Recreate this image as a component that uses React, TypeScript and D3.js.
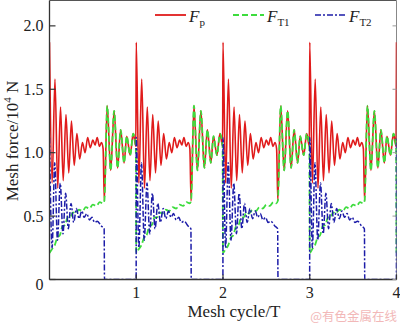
import React from "react";
import * as d3 from "d3";

// ---- data (one mesh cycle; cycles repeat identically) ----
const cycles = [0, 1, 2, 3, 4];
const xTicks = [1, 2, 3, 4];
const xTickLabels = ["1", "2", "3", "4"];
const yTicks = [0, 0.5, 1.0, 1.5, 2.0];
const yTickLabels = ["0", "0.5", "1.0", "1.5", "2.0"];

// F_p : [t within cycle, force /10^4 N]
const fpCycle: [number, number][] = [
  [0.0, 1.87], [0.03, 0.76], [0.063, 1.58], [0.095, 0.72], [0.127, 1.36],
  [0.158, 0.78], [0.19, 1.3], [0.222, 0.84], [0.253, 1.25], [0.285, 0.9],
  [0.316, 1.15], [0.348, 0.95], [0.38, 1.08], [0.41, 1.0], [0.44, 1.12],
  [0.47, 1.04], [0.5, 1.1], [0.525, 1.06], [0.55, 1.12], [0.575, 1.05],
  [0.6, 1.08], [0.618, 1.03], [0.632, 0.62], [0.665, 1.37], [0.705, 0.86],
  [0.745, 1.33], [0.785, 0.88], [0.82, 1.18], [0.86, 0.92], [0.89, 1.13],
  [0.93, 0.98], [0.965, 1.15], [0.995, 1.05],
];
// F_T1
const ft1Cycle: [number, number][] = [
  [0.0, 0.21], [0.03, 0.24], [0.06, 0.27], [0.09, 0.33], [0.12, 0.35],
  [0.15, 0.42], [0.18, 0.43], [0.21, 0.49], [0.24, 0.49], [0.27, 0.53],
  [0.3, 0.52], [0.34, 0.55], [0.38, 0.54], [0.42, 0.57], [0.46, 0.56],
  [0.5, 0.59], [0.54, 0.58], [0.58, 0.61], [0.615, 0.6], [0.632, 0.62],
  [0.665, 1.37], [0.705, 0.86], [0.745, 1.33], [0.785, 0.88], [0.82, 1.18],
  [0.86, 0.92], [0.89, 1.13], [0.93, 0.98], [0.965, 1.15], [0.995, 1.05],
];
// F_T2
const ft2Cycle: [number, number][] = [
  [0.0, 1.12], [0.03, 0.25], [0.06, 0.92], [0.092, 0.31], [0.124, 0.76],
  [0.155, 0.36], [0.186, 0.68], [0.217, 0.4], [0.248, 0.6], [0.279, 0.45],
  [0.31, 0.56], [0.341, 0.48], [0.372, 0.54], [0.4, 0.49], [0.43, 0.52],
  [0.46, 0.47], [0.49, 0.49], [0.52, 0.45], [0.55, 0.46], [0.6, 0.42],
  [0.63, 0.4], [0.634, 0.0], [0.999, 0.0],
];

const seriesNames = ["F", "F", "F"];
const seriesSubs = ["p", "T1", "T2"];

// ---- styles ----
const W = 400, H = 326;
const M = { left: 49.5, right: 396.5, top: 0.5, bottom: 279.5 };
const COLORS = ["#e01b1b", "#3ddc3d", "#1c1ca8"];
const DASH = ["none", "6,3", "6,2,2,2"];
const WIDTH = [1.6, 1.8, 1.5];
const FONT = "'Liberation Serif', 'Times New Roman', serif";

function expand(c: [number, number][]) {
  return cycles
    .flatMap((k) => c.map(([t, v]) => [k + t, v] as [number, number]))
    .filter((d) => d[0] <= 4.0001);
}

export default function App() {
  const x = d3.scaleLinear().domain([0, 4]).range([M.left, M.right]);
  const y = d3.scaleLinear().domain([0, 2.2]).range([M.bottom, M.top]);
  const line = d3
    .line<[number, number]>()
    .x((d) => x(d[0]))
    .y((d) => y(d[1]))
    .curve(d3.curveMonotoneX);

  const series = [expand(fpCycle), expand(ft1Cycle), expand(ft2Cycle)];
  const legendX = [155, 233, 315];

  return (
    <svg
      width={W}
      height={H}
      style={{ position: "absolute", left: 0, top: 0, background: "#fff" }}
      fontFamily={FONT}
    >
      <defs>
        <clipPath id="plot">
          <rect x={M.left} y={M.top} width={M.right - M.left} height={M.bottom - M.top} />
        </clipPath>
      </defs>
      {/* frame */}
      <line x1={M.left} x2={M.right} y1={M.top} y2={M.top} stroke="#555" strokeWidth={1} />
      <line x1={M.right} x2={M.right} y1={M.top} y2={M.bottom} stroke="#888" strokeWidth={1} />

      {/* series */}
      <g clipPath="url(#plot)">
        {series.map((s, i) => (
          <path
            key={i}
            d={line(s) || ""}
            fill="none"
            stroke={COLORS[i]}
            strokeWidth={WIDTH[i]}
            strokeDasharray={DASH[i]}
            strokeLinejoin="round"
          />
        ))}
      </g>

      {/* axes */}
      <line x1={M.left} x2={M.left} y1={M.top} y2={M.bottom} stroke="#333" strokeWidth={1.3} />
      <line x1={M.left} x2={M.right} y1={M.bottom} y2={M.bottom} stroke="#333" strokeWidth={1.3} />
      {yTicks.map((t, i) => (
        <g key={"y" + i}>
          <line x1={M.left} x2={M.left + 6} y1={y(t)} y2={y(t)} stroke="#333" strokeWidth={1.2} />
          <line x1={M.right} x2={M.right - 4} y1={y(t)} y2={y(t)} stroke="#999" strokeWidth={1} />
          <text
            x={M.left - 6}
            y={y(t) + (t === 0 ? 10 : 5.5)}
            textAnchor="end"
            fontSize={16}
            fill="#222"
          >
            {yTickLabels[i]}
          </text>
        </g>
      ))}
      {xTicks.map((t, i) => (
        <g key={"x" + i}>
          <line x1={x(t)} x2={x(t)} y1={M.bottom} y2={M.bottom - 5} stroke="#333" strokeWidth={1.2} />
          <text x={x(t)} y={298} textAnchor="middle" fontSize={16} fill="#222">
            {xTickLabels[i]}
          </text>
        </g>
      ))}

      {/* axis titles */}
      <text x={234} y={317} textAnchor="middle" fontSize={17} fill="#222">
        Mesh cycle/T
      </text>
      <text
        transform="translate(18,141) rotate(-90)"
        textAnchor="middle"
        fontSize={17}
        fill="#222"
      >
        Mesh force/10
        <tspan fontSize={11} dy={-7}>4</tspan>
        <tspan dy={7}> N</tspan>
      </text>

      {/* legend */}
      {seriesNames.map((n, i) => (
        <g key={"lg" + i}>
          <line
            x1={legendX[i]}
            x2={legendX[i] + 31}
            y1={15}
            y2={15}
            stroke={COLORS[i]}
            strokeWidth={WIDTH[i] + 0.2}
            strokeDasharray={DASH[i]}
          />
          <text x={legendX[i] + 34} y={22} fontSize={17} fill="#222">
            <tspan fontStyle="italic">{n}</tspan>
            <tspan fontSize={11} dy={4}>{seriesSubs[i]}</tspan>
          </text>
        </g>
      ))}

      {/* watermark */}
      <text
        x={397}
        y={321}
        textAnchor="end"
        fontSize={12.5}
        fill="#f2b8b8"
        fontFamily="'Noto Sans CJK SC', sans-serif"
      >
        @有色金属在线
      </text>
    </svg>
  );
}
